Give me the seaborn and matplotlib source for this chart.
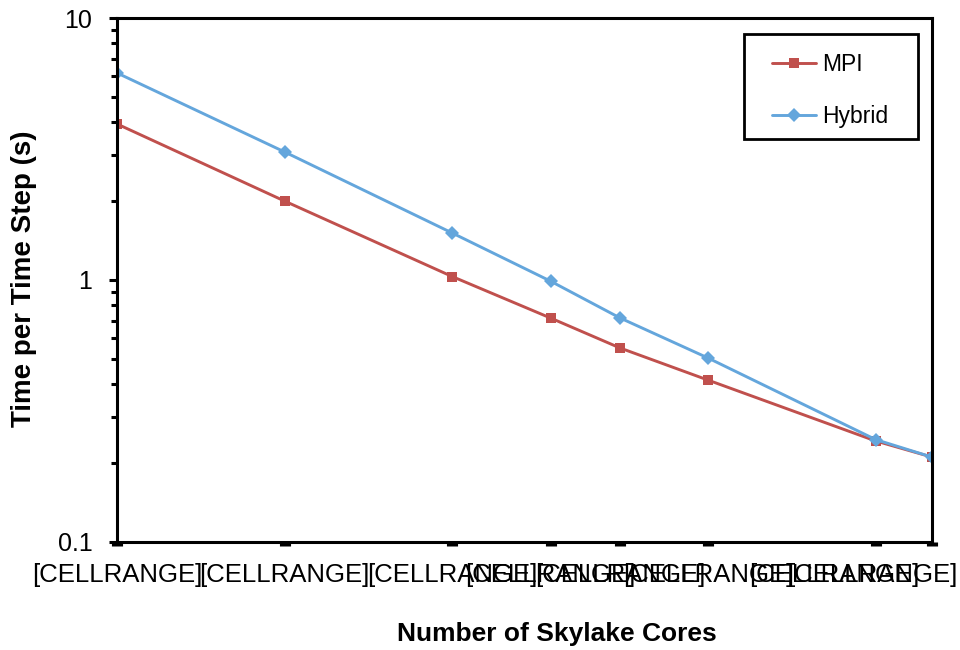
import matplotlib
matplotlib.use("Agg")
import matplotlib.pyplot as plt
import matplotlib.transforms as mtransforms
import seaborn as sns
import pandas as pd
from matplotlib.patches import Rectangle
from matplotlib.ticker import LogLocator, NullFormatter, FixedLocator, FixedFormatter

# ---- data ----
cores = [40, 80, 160, 240, 320, 460, 920, 1160]
tick_labels = ["[CELLRANGE]"] * len(cores)
mpi = [3.94, 2.00, 1.03, 0.716, 0.55, 0.415, 0.243, 0.211]
hybrid = [6.17, 3.08, 1.51, 0.99, 0.716, 0.504, 0.246, 0.211]
series_names = ["MPI", "Hybrid"]
colors = {"MPI": "#C0504D", "Hybrid": "#64A6DC"}
markers = {"MPI": "s", "Hybrid": "D"}

df = pd.DataFrame({
    "cores": cores * 2,
    "time": mpi + hybrid,
    "series": ["MPI"] * len(cores) + ["Hybrid"] * len(cores),
})

sns.set_theme(style="white")
plt.rcParams["font.family"] = ["Liberation Sans", "DejaVu Sans"]
plt.rcParams["text.color"] = "black"
plt.rcParams["axes.labelcolor"] = "black"
plt.rcParams["xtick.color"] = "black"
plt.rcParams["ytick.color"] = "black"

fig = plt.figure(figsize=(9.6, 6.5), dpi=100)
ax = fig.add_axes([0.1219, 0.1662, 0.8486, 0.8061])

sns.lineplot(data=df, x="cores", y="time", hue="series", style="series",
             hue_order=series_names, style_order=series_names,
             palette=colors, markers=markers, dashes=False,
             linewidth=2.1, markersize=7, markeredgewidth=0,
             ax=ax)

ax.set_xscale("log")
ax.set_yscale("log")
ax.set_xlim(cores[0], cores[-1])
ax.set_ylim(0.1, 10)

ax.xaxis.set_major_locator(FixedLocator(cores))
ax.xaxis.set_major_formatter(FixedFormatter(tick_labels))
ax.xaxis.set_minor_locator(FixedLocator([]))
ax.xaxis.set_minor_formatter(NullFormatter())

ax.yaxis.set_major_locator(FixedLocator([0.1, 1, 10]))
ax.yaxis.set_major_formatter(FixedFormatter(["0.1", "1", "10"]))
ax.yaxis.set_minor_locator(LogLocator(base=10, subs=range(2, 10)))
ax.yaxis.set_minor_formatter(NullFormatter())

for s in ax.spines.values():
    s.set_color("black")
    s.set_linewidth(2.2)
    s.set_visible(True)

ax.tick_params(axis="x", which="major", direction="out", length=3, width=8,
               color="black", labelcolor="black", labelsize=18.5, pad=12,
               bottom=True)
ax.tick_params(axis="y", which="major", direction="out", length=5.8, width=2.2,
               color="black", labelcolor="black", labelsize=18, pad=12,
               left=True)
ax.tick_params(axis="y", which="minor", direction="out", length=4, width=2.2,
               color="black", left=True)

# the last two category labels are pulled left so they stay inside the figure
ticks = ax.xaxis.get_major_ticks()
shifts_px = {len(ticks) - 2: -41, len(ticks) - 1: -59}
for i, dx in shifts_px.items():
    lab = ticks[i].label1
    lab.set_transform(lab.get_transform() +
                      mtransforms.ScaledTranslation(dx / 100.0, 0, fig.dpi_scale_trans))

ax.set_xlabel("Number of Skylake Cores", fontsize=19, fontweight="bold",
              color="black")
ax.set_ylabel("Time per Time Step (s)", fontsize=20, fontweight="bold",
              color="black")
ax.xaxis.set_label_coords(0.540, -0.153)
ax.yaxis.set_label_coords(-0.098, 0.502)

# legend frame drawn as a plain rectangle
ax.add_patch(Rectangle((0.7696, 0.769), 0.9832 - 0.7696, 0.9695 - 0.769,
                       transform=ax.transAxes, fill=True, facecolor="white",
                       edgecolor="black", linewidth=2.0, zorder=5,
                       clip_on=False))
leg = ax.legend(loc="center left", bbox_to_anchor=(0.8036, 0.862),
                fontsize=16.5, frameon=False,
                handlelength=1.95, handletextpad=0.25, labelspacing=1.27,
                borderpad=0, borderaxespad=0)
leg.set_zorder(6)
for t in leg.get_texts():
    t.set_color("black")

fig.savefig("out.png", dpi=100, facecolor="white")
